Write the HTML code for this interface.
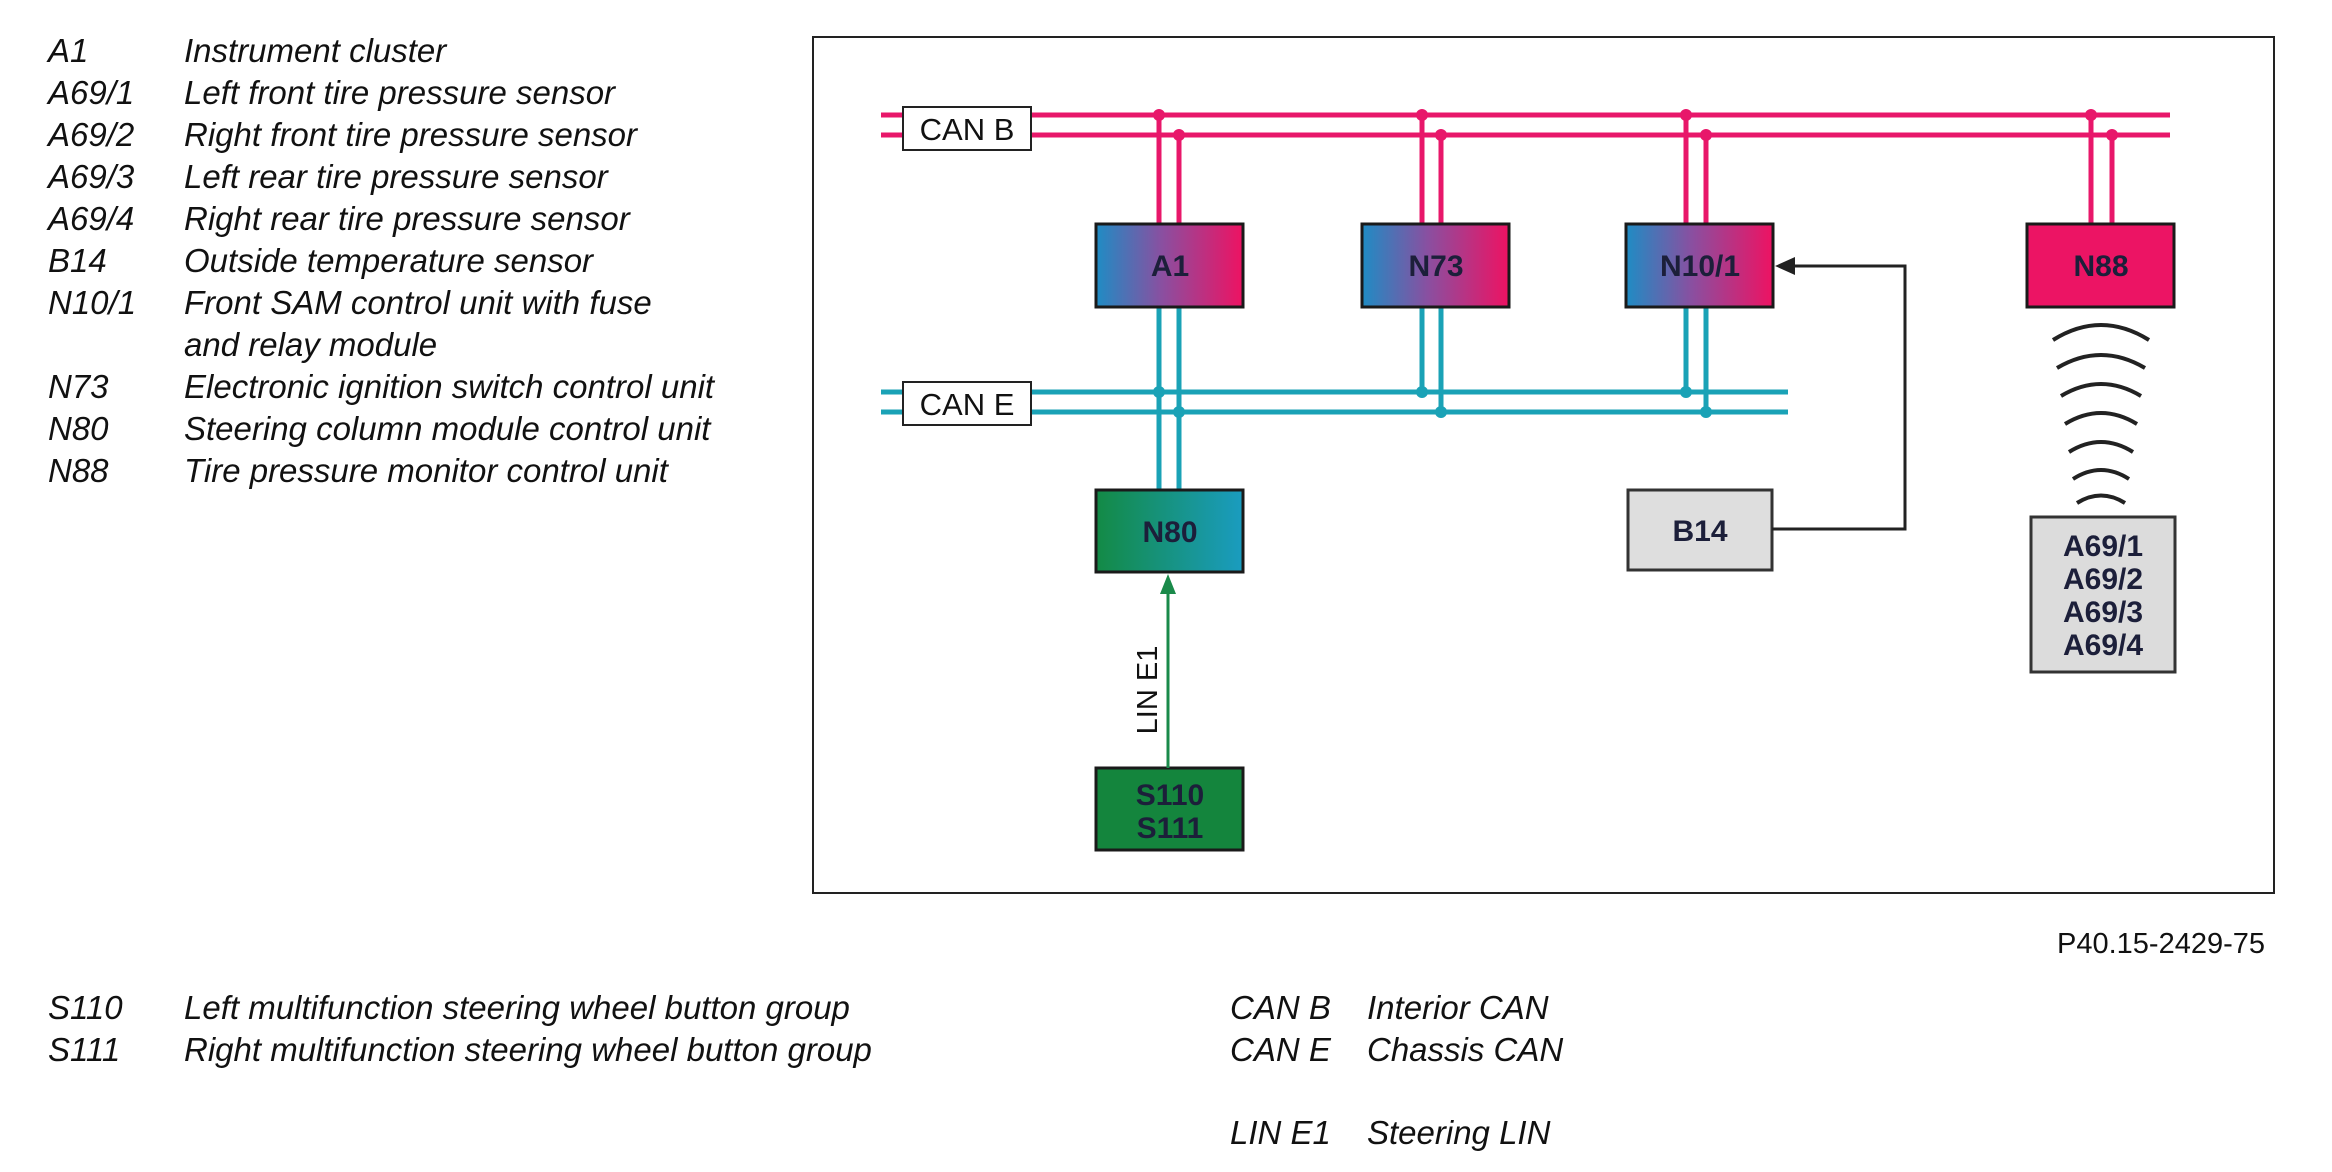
<!DOCTYPE html>
<html><head><meta charset="utf-8"><style>
html,body{margin:0;padding:0;background:#fff;}
body{width:2332px;height:1172px;position:relative;overflow:hidden;font-family:"Liberation Sans",Arial,sans-serif;}
.t{position:absolute;font-style:italic;font-size:33px;color:#111;white-space:nowrap;line-height:1;}
</style></head><body>
<div class="t" style="left:48px;top:34px">A1</div><div class="t" style="left:184px;top:34px">Instrument cluster</div>
<div class="t" style="left:48px;top:76px">A69/1</div><div class="t" style="left:184px;top:76px">Left front tire pressure sensor</div>
<div class="t" style="left:48px;top:118px">A69/2</div><div class="t" style="left:184px;top:118px">Right front tire pressure sensor</div>
<div class="t" style="left:48px;top:160px">A69/3</div><div class="t" style="left:184px;top:160px">Left rear tire pressure sensor</div>
<div class="t" style="left:48px;top:202px">A69/4</div><div class="t" style="left:184px;top:202px">Right rear tire pressure sensor</div>
<div class="t" style="left:48px;top:244px">B14</div><div class="t" style="left:184px;top:244px">Outside temperature sensor</div>
<div class="t" style="left:48px;top:286px">N10/1</div><div class="t" style="left:184px;top:286px">Front SAM control unit with fuse</div>
<div class="t" style="left:184px;top:328px">and relay module</div>
<div class="t" style="left:48px;top:370px">N73</div><div class="t" style="left:184px;top:370px">Electronic ignition switch control unit</div>
<div class="t" style="left:48px;top:412px">N80</div><div class="t" style="left:184px;top:412px">Steering column module control unit</div>
<div class="t" style="left:48px;top:454px">N88</div><div class="t" style="left:184px;top:454px">Tire pressure monitor control unit</div>

<div class="t" style="left:48px;top:991px">S110</div><div class="t" style="left:184px;top:991px">Left multifunction steering wheel button group</div>
<div class="t" style="left:48px;top:1033px">S111</div><div class="t" style="left:184px;top:1033px">Right multifunction steering wheel button group</div>
<div class="t" style="left:1230px;top:991px">CAN B</div><div class="t" style="left:1367px;top:991px">Interior CAN</div>
<div class="t" style="left:1230px;top:1033px">CAN E</div><div class="t" style="left:1367px;top:1033px">Chassis CAN</div>
<div class="t" style="left:1230px;top:1116px">LIN E1</div><div class="t" style="left:1367px;top:1116px">Steering LIN</div>
<div class="t" style="right:67px;top:930px;font-style:normal;font-size:29px">P40.15-2429-75</div>

<svg width="2332" height="1172" style="position:absolute;left:0;top:0" xmlns="http://www.w3.org/2000/svg">
<defs>
<linearGradient id="bp" x1="0" x2="1" y1="0" y2="0"><stop offset="0" stop-color="#1f8cc4"/><stop offset="0.45" stop-color="#8a4fa0"/><stop offset="1" stop-color="#ee1262"/></linearGradient>
<linearGradient id="gt" x1="0" x2="1" y1="0" y2="0"><stop offset="0" stop-color="#138a45"/><stop offset="1" stop-color="#1a9cc0"/></linearGradient>
</defs>
<rect x="813" y="37" width="1461" height="856" fill="none" stroke="#222" stroke-width="2"/>
<g stroke="#e8176a" stroke-width="5" fill="none">
<line x1="881" y1="115" x2="2170" y2="115"/><line x1="881" y1="135" x2="2170" y2="135"/>
<line x1="1159" y1="115" x2="1159" y2="224"/><line x1="1179" y1="135" x2="1179" y2="224"/>
<line x1="1422" y1="115" x2="1422" y2="224"/><line x1="1441" y1="135" x2="1441" y2="224"/>
<line x1="1686" y1="115" x2="1686" y2="224"/><line x1="1706" y1="135" x2="1706" y2="224"/>
<line x1="2091" y1="115" x2="2091" y2="224"/><line x1="2112" y1="135" x2="2112" y2="224"/>
</g>
<g fill="#e8176a">
<circle cx="1159" cy="115" r="6"/><circle cx="1179" cy="135" r="6"/><circle cx="1422" cy="115" r="6"/><circle cx="1441" cy="135" r="6"/>
<circle cx="1686" cy="115" r="6"/><circle cx="1706" cy="135" r="6"/><circle cx="2091" cy="115" r="6"/><circle cx="2112" cy="135" r="6"/>
</g>
<g stroke="#1aa2b6" stroke-width="5" fill="none">
<line x1="881" y1="392" x2="1788" y2="392"/><line x1="881" y1="412" x2="1788" y2="412"/>
<line x1="1159" y1="307" x2="1159" y2="490"/><line x1="1179" y1="307" x2="1179" y2="490"/>
<line x1="1422" y1="307" x2="1422" y2="392"/><line x1="1441" y1="307" x2="1441" y2="412"/>
<line x1="1686" y1="307" x2="1686" y2="392"/><line x1="1706" y1="307" x2="1706" y2="412"/>
</g>
<g fill="#1aa2b6">
<circle cx="1159" cy="392" r="6"/><circle cx="1179" cy="412" r="6"/><circle cx="1422" cy="392" r="6"/><circle cx="1441" cy="412" r="6"/>
<circle cx="1686" cy="392" r="6"/><circle cx="1706" cy="412" r="6"/>
</g>
<g stroke="#222" stroke-width="2">
<rect x="903" y="107" width="128" height="43" fill="#fff"/>
<rect x="903" y="382" width="128" height="43" fill="#fff"/>
</g>
<g font-family="Liberation Sans, Arial, sans-serif" font-size="31" fill="#111" text-anchor="middle">
<text x="967" y="140">CAN B</text><text x="967" y="415">CAN E</text>
</g>
<g stroke="#1a1a1a" stroke-width="3">
<rect x="1096" y="224" width="147" height="83" fill="url(#bp)"/>
<rect x="1362" y="224" width="147" height="83" fill="url(#bp)"/>
<rect x="1626" y="224" width="147" height="83" fill="url(#bp)"/>
<rect x="2027" y="224" width="147" height="83" fill="#ec1464"/>
<rect x="1096" y="490" width="147" height="82" fill="url(#gt)"/>
<rect x="1096" y="768" width="147" height="82" fill="#14853d"/>
<rect x="1628" y="490" width="144" height="80" fill="#dedede" stroke="#333"/>
<rect x="2031" y="517" width="144" height="155" fill="#dcdcdc" stroke="#333"/>
</g>
<g font-family="Liberation Sans, Arial, sans-serif" font-size="30" font-weight="bold" fill="#1c1f3a" text-anchor="middle">
<text x="1170" y="276">A1</text><text x="1436" y="276">N73</text><text x="1700" y="276">N10/1</text><text x="2101" y="276">N88</text>
<text x="1170" y="542">N80</text><text x="1700" y="541">B14</text>
<text x="1170" y="805">S110</text><text x="1170" y="838">S111</text>
<text x="2103" y="556">A69/1</text><text x="2103" y="589">A69/2</text><text x="2103" y="622">A69/3</text><text x="2103" y="655">A69/4</text>
</g>
<polyline points="1772,529 1905,529 1905,266 1790,266" fill="none" stroke="#222" stroke-width="3"/>
<polygon points="1775,266 1795,257 1795,275" fill="#222"/>
<line x1="1168" y1="768" x2="1168" y2="592" stroke="#1a8a4a" stroke-width="3"/>
<polygon points="1168,574 1160,594 1176,594" fill="#1a8a4a"/>
<text transform="translate(1157,690) rotate(-90)" font-family="Liberation Sans, Arial, sans-serif" font-size="29" fill="#111" text-anchor="middle">LIN E1</text>
<g stroke="#222" stroke-width="4" fill="none">
<path d="M2053,340 Q2101,310 2149,340"/>
<path d="M2057,368 Q2101,342 2145,368"/>
<path d="M2061,396 Q2101,372 2141,396"/>
<path d="M2065,424 Q2101,402 2137,424"/>
<path d="M2069,452 Q2101,432 2133,452"/>
<path d="M2073,479 Q2101,461 2129,479"/>
<path d="M2077,503 Q2101,488 2125,503"/>
</g>
</svg>
</body></html>
